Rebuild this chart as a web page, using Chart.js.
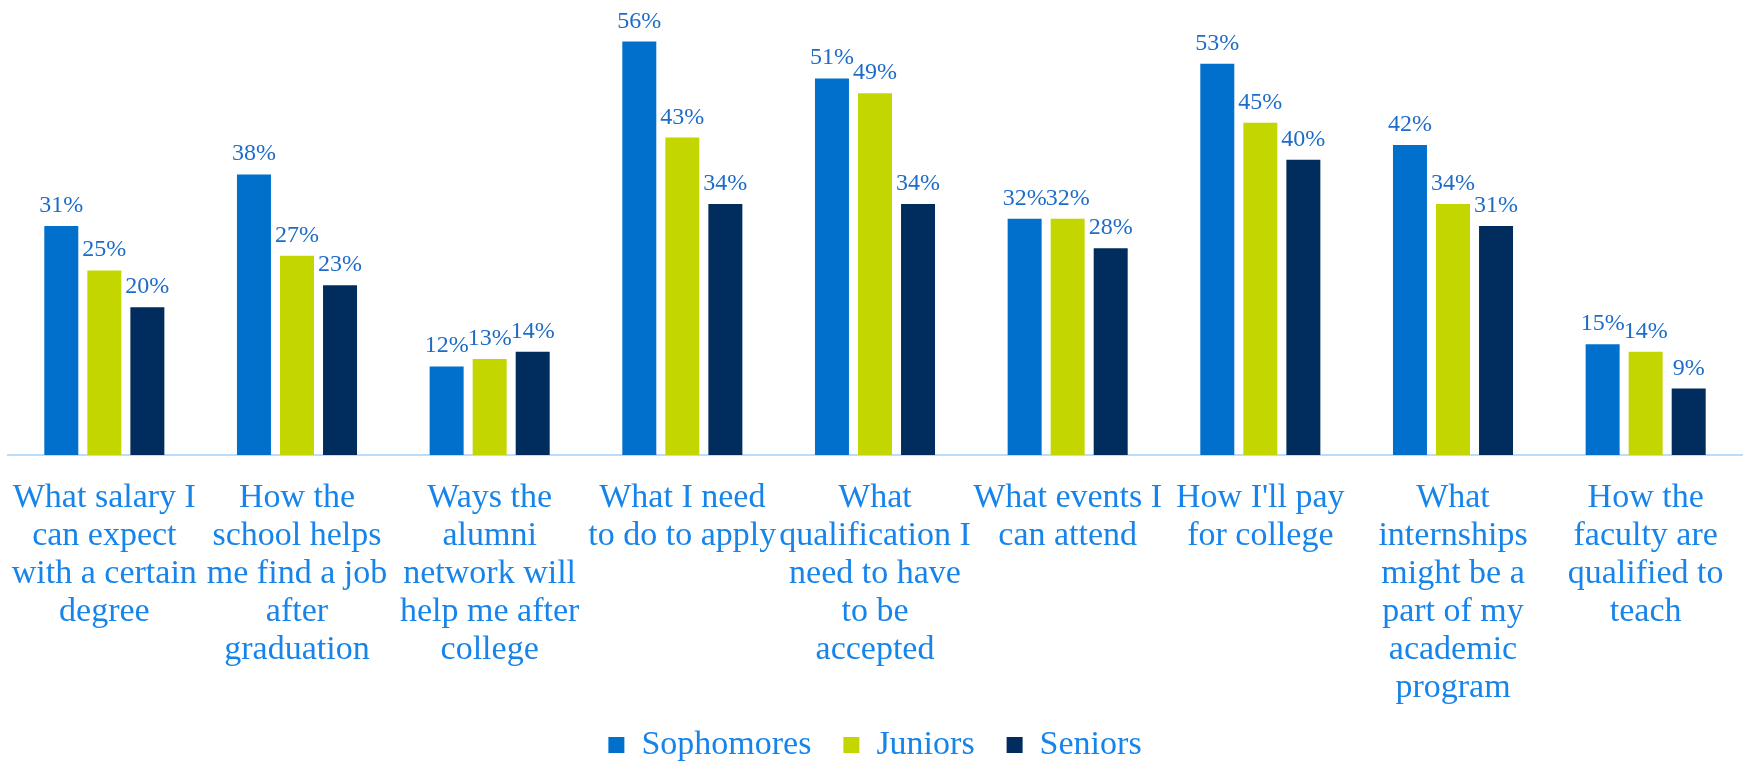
<!DOCTYPE html>
<html>
<head>
<meta charset="utf-8">
<title>What students want to know</title>
<script src="https://cdn.jsdelivr.net/npm/chart.js@4.4.1/dist/chart.umd.min.js"></script>
<style>
  html, body { margin: 0; padding: 0; background: #ffffff; }
  #wrap { width: 1747px; height: 763px; position: relative; }
</style>
</head>
<body>
<div id="wrap"><canvas id="myChart"></canvas></div>
<script>
var topics = [
  ['What salary I', 'can expect', 'with a certain', 'degree'],
  ['How the', 'school helps', 'me find a job', 'after', 'graduation'],
  ['Ways the', 'alumni', 'network will', 'help me after', 'college'],
  ['What I need', 'to do to apply'],
  ['What', 'qualification I', 'need to have', 'to be', 'accepted'],
  ['What events I', 'can attend'],
  ["How I'll pay", 'for college'],
  ['What', 'internships', 'might be a', 'part of my', 'academic', 'program'],
  ['How the', 'faculty are', 'qualified to', 'teach']
];
var sophomores = [31, 38, 12, 56, 51, 32, 53, 42, 15];
var juniors = [25, 27, 13, 43, 49, 32, 45, 34, 14];
var seniors = [20, 23, 14, 34, 34, 28, 40, 31, 9];

var serif = "'Liberation Serif', 'Times New Roman', serif";
var labelBlue = '#1684EA';

// value labels above each bar
var barValues = {
  id: 'barValues',
  afterDatasetsDraw: function (chart) {
    var ctx = chart.ctx;
    ctx.save();
    ctx.font = '24px ' + serif;
    ctx.fillStyle = '#1E6CC8';
    ctx.textAlign = 'center';
    ctx.textBaseline = 'alphabetic';
    chart.data.datasets.forEach(function (ds, i) {
      chart.getDatasetMeta(i).data.forEach(function (bar, j) {
        ctx.fillText(ds.data[j] + '%', bar.x, bar.y - 14);
      });
    });
    ctx.restore();
  }
};

// the category labels run past the legend box, so let them draw to the
// bottom edge, and sit the legend a little lower
var bottomTweak = {
  id: 'bottomTweak',
  afterLayout: function (chart) {
    chart.scales.x.bottom = chart.height;
    chart.legend.top += 9;
    chart.legend.bottom += 9;
  }
};

document.addEventListener('DOMContentLoaded', function () {
  var ctx = document.getElementById('myChart').getContext('2d');
  var chart = new Chart(ctx, {
    type: 'bar',
    data: {
      labels: topics,
      datasets: [{
        label: 'Sophomores',
        backgroundColor: '#0070CC',
        data: sophomores
      }, {
        label: 'Juniors',
        backgroundColor: '#C4D600',
        data: juniors
      }, {
        label: 'Seniors',
        backgroundColor: '#002D5E',
        data: seniors
      }]
    },
    options: {
      responsive: true,
      maintainAspectRatio: false,
      animation: false,
      categoryPercentage: 0.67,
      barPercentage: 0.79,
      layout: {
        padding: { top: 12, left: 8, right: 5, bottom: 0 }
      },
      plugins: {
        tooltip: { enabled: false },
        legend: {
          position: 'bottom',
          labels: {
            boxWidth: 16,
            boxHeight: 16,
            padding: 32,
            color: labelBlue,
            font: { family: serif, size: 34 }
          }
        }
      },
      scales: {
        x: {
          grid: { display: false, drawTicks: false },
          border: { display: true, color: '#BDDCF8', width: 2 },
          ticks: {
            autoSkip: false,
            maxRotation: 0,
            minRotation: 0,
            padding: 24,
            color: labelBlue,
            font: { family: serif, size: 34, lineHeight: 38 / 34 }
          },
          afterFit: function (scale) {
            scale.height = 232;
            scale.paddingLeft = 0;
            scale.paddingRight = 0;
          }
        },
        y: {
          display: false,
          min: 0,
          max: 60
        }
      }
    },
    plugins: [barValues, bottomTweak]
  });
});
</script>
</body>
</html>
